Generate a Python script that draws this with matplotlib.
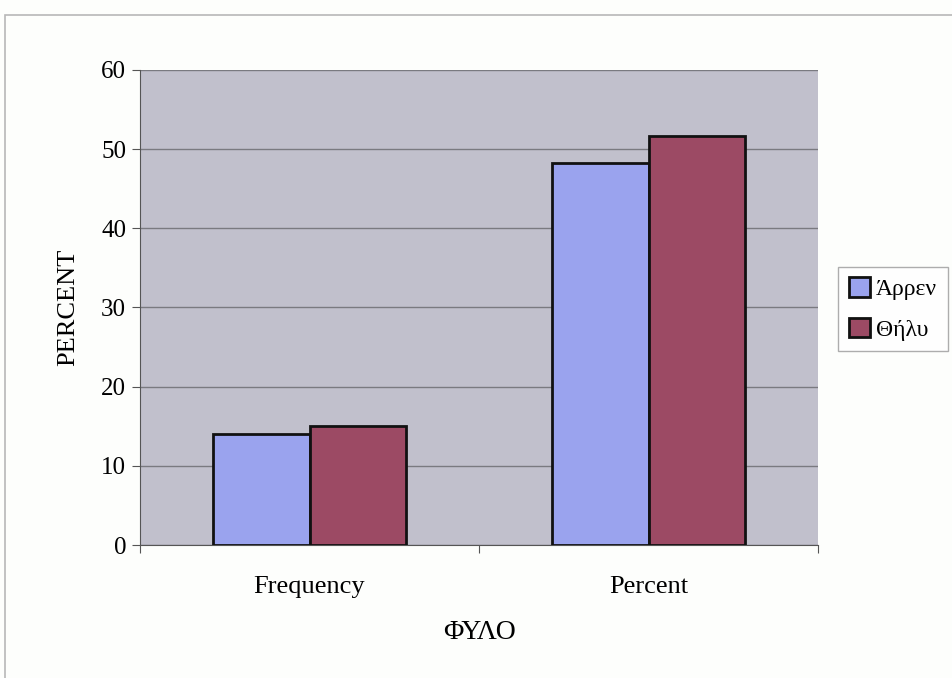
import matplotlib.pyplot as plt
import numpy as np
from matplotlib.patches import Rectangle

# sex breakdown: counts and percentages
categories = ['Frequency', 'Percent']
series_names = ['Άρρεν', 'Θήλυ']
male_vals = [14, 48.3]
female_vals = [15, 51.7]
y_ticks = [0, 10, 20, 30, 40, 50, 60]

plt.rcParams['font.family'] = ['Liberation Serif', 'DejaVu Serif']

fig = plt.figure(figsize=(9.53, 6.78), dpi=100)
fig.patch.set_facecolor('#fdfefc')

# thin frame around the chart area
fig.add_artist(Rectangle((5 / 953, -0.01), 1.0, 1 - 15 / 678 + 0.01,
                         transform=fig.transFigure, fill=False,
                         edgecolor='#b8b8b8', linewidth=1.2))

ax = fig.add_axes([140 / 953, 1 - 545 / 678, 678 / 953, 475 / 678])
ax.set_facecolor('#c1c0cc')

x = np.arange(len(categories))
width = 1 / 3.5
ax.bar(x - width / 2, male_vals, width, color='#9aa3ee', edgecolor='#111111',
       linewidth=2, label=series_names[0], zorder=3)
ax.bar(x + width / 2, female_vals, width, color='#9c4a64', edgecolor='#111111',
       linewidth=2, label=series_names[1], zorder=3)

ax.set_xlim(-0.5, 1.5)
ax.set_ylim(0, 60)
ax.set_yticks(y_ticks)
ax.yaxis.grid(True, color='#7a7a80', linewidth=1, zorder=1)
ax.set_axisbelow(True)

# category labels centred, tick marks between categories
ax.set_xticks([-0.5, 0.5, 1.5])
ax.set_xticklabels([])
ax.set_xticks(x, minor=True)
ax.set_xticklabels(categories, minor=True, fontsize=19)
ax.tick_params(axis='x', which='minor', length=0, pad=22)
ax.tick_params(axis='x', which='major', length=6, color='#555555')
ax.tick_params(axis='y', length=6, color='#555555', labelsize=18, pad=4)

for side in ['top', 'right']:
    ax.spines[side].set_visible(False)
ax.spines['left'].set_color('#555555')
ax.spines['bottom'].set_color('#555555')

ax.set_xlabel('ΦΥΛΟ', fontsize=20, labelpad=16)
ax.set_ylabel('PERCENT', fontsize=19, labelpad=16)

leg = ax.legend(loc='center left', bbox_to_anchor=(1.03, 0.497), fontsize=17,
                frameon=True, fancybox=False, edgecolor='#999999',
                handlelength=0.9, handleheight=0.9, handletextpad=0.25,
                labelspacing=0.75, borderpad=0.45, borderaxespad=0)
leg.get_frame().set_linewidth(1)

fig.savefig('out.png', dpi=100, facecolor=fig.get_facecolor())
